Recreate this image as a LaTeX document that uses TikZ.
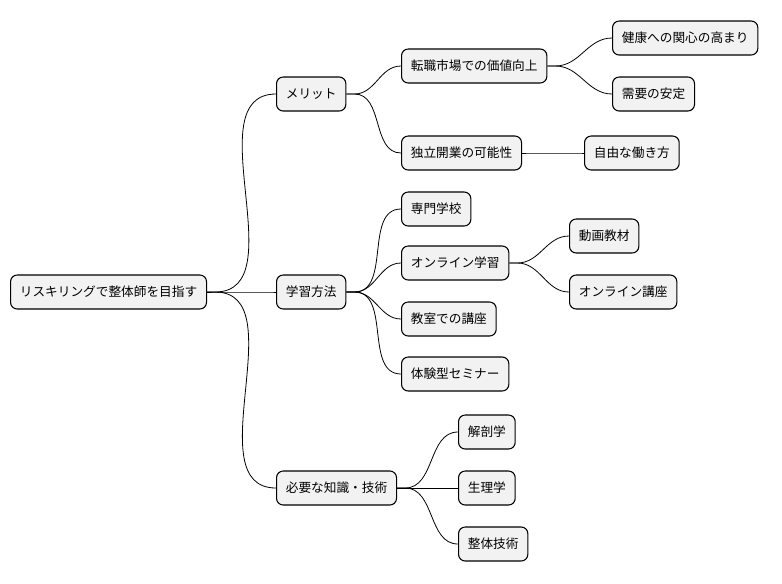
\documentclass[tikz,border=0pt]{standalone}
\usepackage{fontspec}
\setmainfont{Noto Sans CJK JP}
\begin{document}
\begin{tikzpicture}[x=0.75pt,y=-0.75pt,
  topic/.style={draw=black,line width=0.8pt,fill=gray!10,rounded corners=5pt,
    anchor=west,minimum height=25.5pt,inner xsep=7pt,font=\fontsize{9.5}{11}\selectfont},
  branch/.style={line width=0.6pt}]
\useasboundingbox (0,0) rectangle (782,583);

% root and first level
\node[topic] (root) at (10,292) {リスキリングで整体師を目指す};
\node[topic] (merit) at (276,94) {メリット};
\node[topic] (study) at (276,292) {学習方法};
\node[topic] (skill) at (276,488) {必要な知識・技術};

% merit
\node[topic] (career) at (401,66) {転職市場での価値向上};
\node[topic] (indep) at (401,153) {独立開業の可能性};
\node[topic] (health) at (612,38) {健康への関心の高まり};
\node[topic] (demand) at (612,94) {需要の安定};
\node[topic] (free) at (584,153) {自由な働き方};

% study
\node[topic] (school) at (401,209) {専門学校};
\node[topic] (online) at (401,263) {オンライン学習};
\node[topic] (video) at (569,236) {動画教材};
\node[topic] (course) at (569,292) {オンライン講座};
\node[topic] (class) at (401,319) {教室での講座};
\node[topic] (seminar) at (401,374) {体験型セミナー};

% skill
\node[topic] (anat) at (458,432) {解剖学};
\node[topic] (phys) at (458,488) {生理学};
\node[topic] (tech) at (458,544) {整体技術};

% connectors
\foreach \p/\c in {root/merit,root/study,root/skill,
  merit/career,merit/indep,career/health,career/demand,indep/free,
  study/school,study/online,study/class,study/seminar,online/video,online/course,
  skill/anat,skill/phys,skill/tech}
  \draw[branch] (\p.east) -- ++(6pt,0) to[out=0,in=180] (\c.west);
\end{tikzpicture}
\end{document}
